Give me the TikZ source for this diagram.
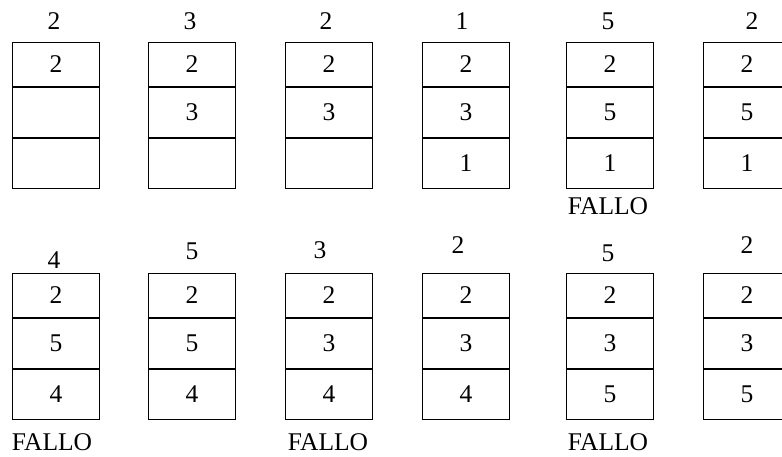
\documentclass[tikz,border=0pt]{standalone}
\usepackage{fontspec}
\setmainfont{Liberation Serif}
\usetikzlibrary{positioning}
\begin{document}
\begin{tikzpicture}[x=1pt, y=-1pt, line width=0.8pt,
    celda/.style={draw, minimum width=87pt, minimum height=50pt, inner sep=0pt,
      font=\fontsize{25.5}{30}\selectfont},
    celdasup/.style={celda, minimum height=44pt, anchor=north west},
    etiq/.style={font=\fontsize{25.5}{30}\selectfont},
    fallo/.style={etiq, inner sep=0pt}]
  \useasboundingbox (0,0) rectangle (782,456);
  % Posiciones x de las pilas
  \def\xa{12} \def\xb{148} \def\xc{285} \def\xd{422} \def\xe{566} \def\xf{703}
  % Posiciones y de las filas
  \def\ya{42} \def\yb{273}
  % Fila 1: pilas
  \node[celdasup] (p1a) at (\xa,\ya) {2};
  \node[celda, below=0pt of p1a] (p1b) {};
  \node[celda, below=0pt of p1b] (p1c) {};
  \node[celdasup] (p2a) at (\xb,\ya) {2};
  \node[celda, below=0pt of p2a] (p2b) {3};
  \node[celda, below=0pt of p2b] (p2c) {};
  \node[celdasup] (p3a) at (\xc,\ya) {2};
  \node[celda, below=0pt of p3a] (p3b) {3};
  \node[celda, below=0pt of p3b] (p3c) {};
  \node[celdasup] (p4a) at (\xd,\ya) {2};
  \node[celda, below=0pt of p4a] (p4b) {3};
  \node[celda, below=0pt of p4b] (p4c) {1};
  \node[celdasup] (p5a) at (\xe,\ya) {2};
  \node[celda, below=0pt of p5a] (p5b) {5};
  \node[celda, below=0pt of p5b] (p5c) {1};
  \node[celdasup] (p6a) at (\xf,\ya) {2};
  \node[celda, below=0pt of p6a] (p6b) {5};
  \node[celda, below=0pt of p6b] (p6c) {1};
  % Fila 1: referencias
  \node[etiq] (r1) at (54,21) {2};
  \node[etiq] (r2) at (190,21) {3};
  \node[etiq] (r3) at (326,21) {2};
  \node[etiq] (r4) at (462,21) {1};
  \node[etiq] (r5) at (608,21) {5};
  \node[etiq] (r6) at (752,21) {2};
  \node[fallo] (f5) at (608,206.5) {FALLO};
  % Fila 2: pilas
  \node[celdasup] (q1a) at (\xa,\yb) {2};
  \node[celda, below=0pt of q1a] (q1b) {5};
  \node[celda, below=0pt of q1b] (q1c) {4};
  \node[celdasup] (q2a) at (\xb,\yb) {2};
  \node[celda, below=0pt of q2a] (q2b) {5};
  \node[celda, below=0pt of q2b] (q2c) {4};
  \node[celdasup] (q3a) at (\xc,\yb) {2};
  \node[celda, below=0pt of q3a] (q3b) {3};
  \node[celda, below=0pt of q3b] (q3c) {4};
  \node[celdasup] (q4a) at (\xd,\yb) {2};
  \node[celda, below=0pt of q4a] (q4b) {3};
  \node[celda, below=0pt of q4b] (q4c) {4};
  \node[celdasup] (q5a) at (\xe,\yb) {2};
  \node[celda, below=0pt of q5a] (q5b) {3};
  \node[celda, below=0pt of q5b] (q5c) {5};
  \node[celdasup] (q6a) at (\xf,\yb) {2};
  \node[celda, below=0pt of q6a] (q6b) {3};
  \node[celda, below=0pt of q6b] (q6c) {5};
  % Fila 2: referencias
  \node[etiq] (s1) at (54,260) {4};
  \node[etiq] (s2) at (192,251) {5};
  \node[etiq] (s3) at (320,250) {3};
  \node[etiq] (s4) at (458,245) {2};
  \node[etiq] (s5) at (608,253) {5};
  \node[etiq] (s6) at (747,245) {2};
  \node[fallo] (g1) at (52,442) {FALLO};
  \node[fallo] (g3) at (328,442) {FALLO};
  \node[fallo] (g5) at (608,442) {FALLO};
\end{tikzpicture}
\end{document}
